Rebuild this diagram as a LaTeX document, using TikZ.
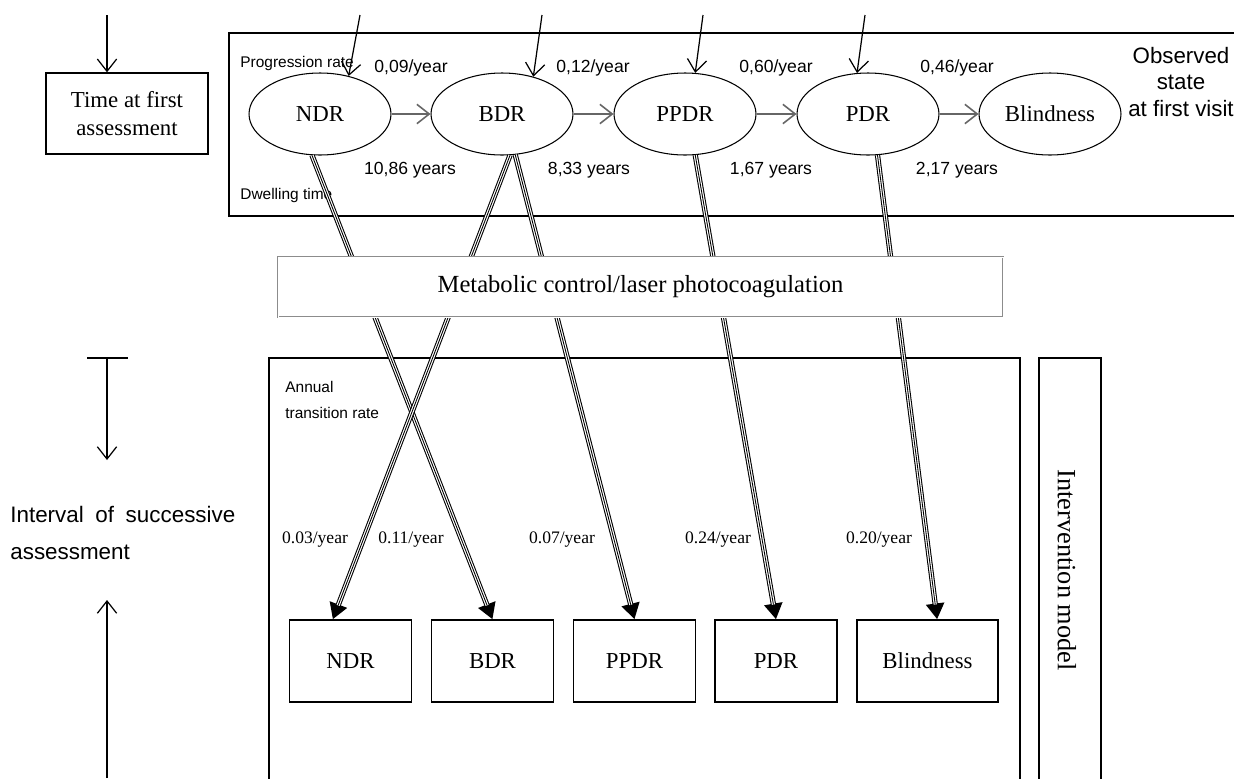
\documentclass[tikz,border=0pt]{standalone}
\usepackage{fontspec}
\setmainfont{Liberation Serif}
\setsansfont{Liberation Sans}
\usetikzlibrary{arrows.meta,shapes.geometric}

\tikzset{
  state/.style={draw, ellipse, line width=0.6pt, minimum width=2.84cm, minimum height=1.64cm, inner sep=0pt, font=\fontsize{13}{15}\selectfont},
  visit/.style={draw, rectangle, line width=0.8pt, minimum height=1.64cm, inner sep=0pt, font=\fontsize{13}{15}\selectfont},
  ratelabel/.style={font=\sffamily\fontsize{10}{12}\selectfont},
  annual/.style={font=\fontsize{10}{12}\selectfont},
  smalllabel/.style={font=\sffamily\fontsize{8.8}{14.7}\selectfont, anchor=west, align=left, inner sep=0pt},
  frame/.style={line width=0.8pt},
  openarrow/.style={line width=0.7pt, -{Straight Barb[length=7pt,width=11pt]}},
  linkarrow/.style={line width=0.9pt, draw=black!60, -{Straight Barb[length=7pt,width=11pt]}},
  transarrow/.style={line width=3pt, -{Triangle[length=9pt,width=10pt]},
    postaction={draw=white, line width=1.8pt, -, shorten >=8.5pt},
    postaction={draw=black, line width=0.5pt, -, shorten >=8.5pt}},
}

\begin{document}
\begin{tikzpicture}[x=0.02cm, y=-0.02cm]
    \useasboundingbox (0, 0) rectangle (1234, 778);

    % time at first assessment
    \node [draw, frame, minimum width=3.24cm, minimum height=1.62cm, align=center, font=\fontsize{13}{16.4}\selectfont] (first) at (127, 113.5) {Time at first\\assessment};
    \coordinate (firsttop) at (107, 15);
    \draw [openarrow] (firsttop) -- (firsttop |- first.north);

    % observed states
    \draw [frame] (1240, 33) -- (229, 33) -- (229, 216) -- (1240, 216);
    \node [smalllabel] (progression) at (240, 63) {Progression rate};
    \node [smalllabel] (dwelling) at (240, 195) {Dwelling time};

    \node [state] (ndr) at (320, 114) {NDR};
    \node [state] (bdr) at (502, 114) {BDR};
    \node [state] (ppdr) at (685, 114) {PPDR};
    \node [state] (pdr) at (868, 114) {PDR};
    \node [state] (blind) at (1050, 114) {Blindness};

    \draw [linkarrow] (ndr) -- (bdr);
    \draw [linkarrow] (bdr) -- (ppdr);
    \draw [linkarrow] (ppdr) -- (pdr);
    \draw [linkarrow] (pdr) -- (blind);

    \node [ratelabel] (rndr) at (411, 68) {0,09/year};
    \node [ratelabel] (rbdr) at (593, 68) {0,12/year};
    \node [ratelabel] (rppdr) at (776, 68) {0,60/year};
    \node [ratelabel] (rpdr) at (957, 68) {0,46/year};

    \node [ratelabel] (dndr) at (410, 170) {10,86 years};
    \node [ratelabel] (dbdr) at (589, 170) {8,33 years};
    \node [ratelabel] (dppdr) at (771, 170) {1,67 years};
    \node [ratelabel] (dpdr) at (957, 170) {2,17 years};

    \node [align=center, font=\sffamily\fontsize{12.7}{15}\selectfont] (observed) at (1181, 82) {Observed\\state\\at first visit};

    \coordinate (inndr) at (360, 15);
    \coordinate (inbdr) at (542, 15);
    \coordinate (inppdr) at (703, 15);
    \coordinate (inpdr) at (865, 15);
    \draw [openarrow] (inndr) -- (ndr.53);
    \draw [openarrow] (inbdr) -- (bdr.50);
    \draw [openarrow] (inppdr) -- (ppdr.76);
    \draw [openarrow] (inpdr) -- (pdr.105);

    % interval of successive assessment
    \draw [frame] (87, 358) -- (128, 358);
    \coordinate (intop) at (107, 358);
    \coordinate (inbottom) at (107, 778);
    \coordinate (inupper) at (107, 460);
    \coordinate (inlower) at (107, 600);
    \draw [openarrow] (intop) -- (inupper);
    \draw [openarrow] (inbottom) -- (inlower);
    \node [anchor=west, text width=4.5cm, align=left, inner sep=0pt, font=\sffamily\fontsize{12.75}{21}\selectfont] (interval) at (10, 533) {Interval\hfill of\hfill successive\\assessment};

    % intervention model
    \draw [frame] (269, 790) -- (269, 358) -- (1020, 358) -- (1020, 790);
    \draw [frame] (1039, 790) -- (1039, 358) -- (1101, 358) -- (1101, 790);
    \node [rotate=-90, font=\fontsize{15}{18}\selectfont] (intmodel) at (1067, 570) {Intervention model};
    \node [smalllabel] (annual) at (285, 400) {Annual\\transition rate};

    \node [visit, minimum width=2.44cm] (vndr) at (350.5, 661) {NDR};
    \node [visit, minimum width=2.44cm] (vbdr) at (492.5, 661) {BDR};
    \node [visit, minimum width=2.44cm] (vppdr) at (634.5, 661) {PPDR};
    \node [visit, minimum width=2.44cm] (vpdr) at (776, 661) {PDR};
    \node [visit, minimum width=2.82cm] (vblind) at (927.5, 661) {Blindness};

    \draw [transarrow] (ndr.259) -- (vbdr.north);
    \draw [transarrow] (bdr.281) -- (vndr.113);
    \draw [transarrow] (bdr.288) -- (vppdr.north);
    \draw [transarrow] (ppdr.284) -- (vpdr.north);
    \draw [transarrow] (pdr.283) -- (vblind.77);

    \node [annual] (andr) at (315, 540) {0.03/year};
    \node [annual] (abdr) at (411, 540) {0.11/year};
    \node [annual] (appdr) at (562, 540) {0.07/year};
    \node [annual] (apdr) at (718, 540) {0.24/year};
    \node [annual] (ablind) at (879, 540) {0.20/year};

    % treatment
    \node [draw=black!45, double=white, double distance=0.5pt, line width=0.5pt, fill=white, minimum width=14.5cm, minimum height=1.2cm, font=\fontsize{14}{16}\selectfont] (meta) at (640.5, 287) {Metabolic control/laser photocoagulation};
\end{tikzpicture}
\end{document}
